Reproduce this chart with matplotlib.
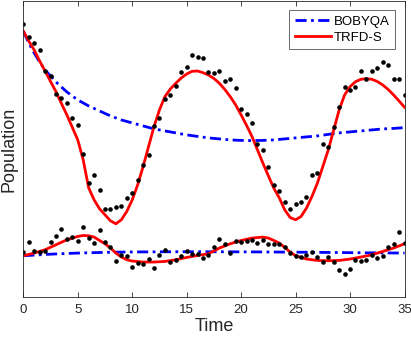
import matplotlib
matplotlib.use("Agg")
import matplotlib.pyplot as plt
import numpy as np

plt.rcParams['font.family'] = ['Liberation Sans', 'DejaVu Sans']

# observed data, sampled every 0.5 time units
t_obs = np.arange(0, 35.5, 0.5)
prey_obs = [272.7, 260.3, 253.7, 247, 226, 221.3, 203, 198.7, 194.3, 178.7,
            172, 143.3, 113.7, 122, 107.3, 87.7, 87.7, 90.3, 91, 98.7,
            103.7, 116.7, 131.7, 142.3, 171.3, 179.3, 198, 202, 211.3, 225.3,
            230, 242, 240.3, 239, 225.3, 224.3, 226, 216.3, 218.3, 209.3,
            187.7, 183.3, 173.7, 153.3, 146.7, 129.7, 112, 105.7, 95, 88,
            93, 95, 99.7, 122, 124.3, 153.3, 150.3, 170, 190.3, 210.3,
            207.3, 210, 225.7, 217.7, 226, 229.3, 235, 231.7, 218, 217.7,
            202]
pred_obs = [45, 54.3, 45.7, 45, 46, 55, 60.7, 67.3, 57.3, 59.7,
            56, 69.3, 58.3, 53.7, 66.3, 54.3, 49.7, 36, 41.7, 40.3,
            29.3, 34, 32.7, 37.7, 28.7, 41.7, 46.3, 34.3, 37, 40.3,
            45.7, 42.7, 42.7, 38.8, 42, 49.3, 57.3, 52.3, 44, 55.7,
            54.7, 55.7, 57, 53.3, 56.3, 52.3, 52.7, 52.3, 49.3, 43.7,
            41, 39.3, 41.3, 45, 39.7, 34.3, 39.7, 34.7, 26.3, 22.7,
            27.7, 37, 36, 36.3, 41.7, 39, 40.7, 49.7, 52.3, 64.3,
            53.7]

# TRFD-S fit
t_trfd_prey = np.arange(0, 35.5, 0.5)
trfd_prey = [266, 256, 247, 236, 226, 215.5, 205.3, 193.5, 182, 169.5,
             157, 137, 109, 97, 88, 82, 76, 73, 77, 85.3,
             97, 112, 130.3, 150.3, 170.3, 187, 200.3, 208, 213.7, 219,
             223, 225.7, 226, 224.3, 222, 218.5, 213.7, 207.5, 200.3, 192,
             182, 171.5, 160.3, 147, 133.7, 121, 108.7, 99, 87, 79.3,
             77, 80.3, 88.7, 100.3, 113.7, 130.3, 147, 167, 187, 202,
             210.3, 215.3, 217.7, 218.3, 217.7, 215.5, 212, 207.5, 202, 196,
             189.7]
t_trfd_pred = [0, 1, 2, 3, 4, 5, 5.5, 6, 6.5, 7, 7.5, 8, 8.5, 9, 9.5, 10,
               11, 12, 13, 14, 15, 16, 17, 18, 19, 20, 21, 22, 22.5, 23,
               23.5, 24, 24.5, 25, 26, 27, 28, 29, 30, 31, 32, 33, 34, 35]
trfd_pred = [41, 43.7, 47, 52, 57, 60.3, 61.3, 61, 59.7, 56.3, 53, 48.7,
             43.7, 39.7, 37, 35.7, 34.7, 34.7, 35.3, 37, 39.3, 41.3, 43,
             48.7, 53, 56.3, 58.7, 59.7, 58.7, 56.3, 53.7, 49.3, 44.7, 41,
             37.7, 36.3, 36, 36.3, 37.7, 39.7, 42, 45.3, 48.7, 53]

# BOBYQA fit
t_bob_prey = [0, 0.5, 1, 1.5, 2, 3, 4, 5, 6, 7, 8, 9, 10, 11, 12, 13, 14,
              15, 16, 17, 18, 19, 20, 21, 22, 23, 24, 25, 26, 27, 28, 29,
              30, 31, 32, 33, 34, 35]
bob_prey = [266, 254, 244, 235, 227, 215, 205, 197, 191, 186, 181, 177,
            174, 171, 168, 166, 164, 162, 160.5, 159, 158, 157, 156.5,
            156.3, 156.5, 157, 158, 159, 160, 161, 162.5, 164, 165, 166,
            167, 168, 168.5, 169.3]
t_bob_pred = [0, 2, 4, 6, 8, 10, 14, 18, 22, 26, 30, 35]
bob_pred = [41, 42.3, 43.3, 44, 44.5, 44.8, 45, 45, 44.8, 44.5, 44.1, 43.7]

fig = plt.figure(figsize=(4.11, 3.39), dpi=100)
ax = fig.add_axes([0.0567, 0.1248, 0.9275, 0.872])

dashdot = (0, (4, 1.6, 1, 1.6))
ax.plot(t_bob_prey, bob_prey, color='#0000ff', lw=2, ls=dashdot, label='BOBYQA')
ax.plot(t_trfd_prey, trfd_prey, color='#ff0000', lw=2, label='TRFD-S')
ax.plot(t_bob_pred, bob_pred, color='#0000ff', lw=2, ls=dashdot)
ax.plot(t_trfd_pred, trfd_pred, color='#ff0000', lw=2)
ax.plot(t_obs, prey_obs, 'o', color='black', ms=3.3, mew=0)
ax.plot(t_obs, pred_obs, 'o', color='black', ms=3.3, mew=0)

ax.set_xlim(0, 35)
ax.set_ylim(0, 296)
ax.set_xticks(range(0, 36, 5))
ax.set_yticks([])
ax.tick_params(axis='x', direction='in', length=3.5, width=0.6, top=True,
               labelsize=9.5, colors='#262626', pad=5)
for s in ax.spines.values():
    s.set_color('#262626')
    s.set_linewidth(0.6)

ax.set_xlabel('Time', fontsize=13, color='#262626', labelpad=2)
ax.set_ylabel('Population', fontsize=13, color='#262626', labelpad=4)

leg = ax.legend(loc='upper right', fontsize=9.5, frameon=True, fancybox=False,
                handlelength=2.8, handletextpad=0.2, borderpad=0.4,
                labelspacing=0.3, borderaxespad=0.7)
leg.get_frame().set_edgecolor('#262626')
leg.get_frame().set_linewidth(0.6)

fig.savefig('out.png', dpi=100)
